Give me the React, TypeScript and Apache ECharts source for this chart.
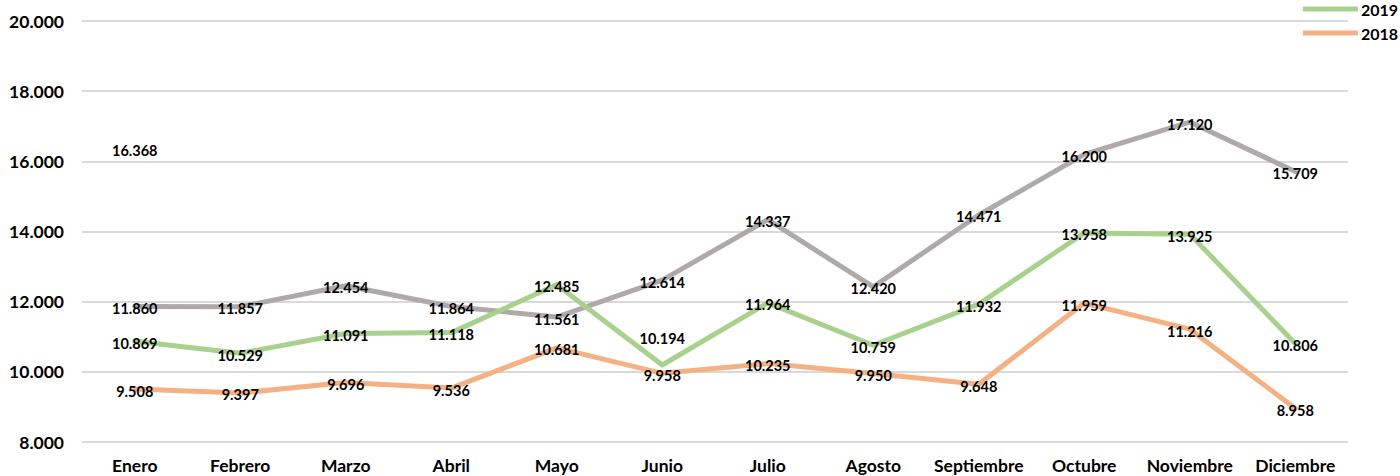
import React, { useEffect, useRef } from "react";
import * as echarts from "echarts";

const months = ["Enero", "Febrero", "Marzo", "Abril", "Mayo", "Junio", "Julio", "Agosto", "Septiembre", "Octubre", "Noviembre", "Diciembre"];
const s2021 = [16368, null, null, null, null, null, null, null, null, null, null, null];
const s2020 = [11860, 11857, 12454, 11864, 11561, 12614, 14337, 12420, 14471, 16200, 17120, 15709];
const s2019 = [10869, 10529, 11091, 11118, 12485, 10194, 11964, 10759, 11932, 13958, 13925, 10806];
const s2018 = [9508, 9397, 9696, 9536, 10681, 9958, 10235, 9950, 9648, 11959, 11216, 8958];
const yTicks = { min: 8000, max: 20000, interval: 2000 };

const fmt = (v: number) => {
  const s = Math.round(v).toString();
  return s.replace(/\B(?=(\d{3})+(?!\d))/g, ".");
};

const FONT = "Lato, 'Open Sans', sans-serif";

const labelStyle = {
  show: true,
  position: "inside",
  offset: [0, 2],
  color: "#000",
  fontFamily: FONT,
  fontWeight: "bold",
  fontSize: 14.5,
  formatter: (p: any) => fmt(p.value),
};

function makeSeries(name: string, data: (number | null)[], color: string, special?: Record<number, number[]>) {
  return {
    name,
    type: "line",
    data: data.map((v, i) =>
      special && special[i] ? { value: v, label: { offset: special[i] } } : v
    ),
    symbol: "circle",
    symbolSize: 1,
    showSymbol: true,
    itemStyle: { color: "rgba(0,0,0,0)" },
    lineStyle: { color, width: 5, cap: "round", join: "round" },
    label: labelStyle,
    connectNulls: false,
    z: 2,
  };
}

export default function App() {
  const ref = useRef<HTMLDivElement>(null);
  useEffect(() => {
    if (!ref.current) return;
    const chart = echarts.init(ref.current, null, { renderer: "svg" });
    chart.setOption({
      animation: false,
      backgroundColor: "#fff",
      grid: { left: 82, right: 52, top: 21, bottom: 34, containLabel: false },
      legend: {
        orient: "vertical",
        right: 2,
        top: 1,
        padding: 0,
        itemGap: 8,
        itemWidth: 55,
        itemHeight: 5,
        icon: "rect",
        textStyle: { fontFamily: FONT, fontWeight: "bold", fontSize: 16, color: "#000", padding: [0, 0, 0, -2] },
        data: [
          { name: "2019", itemStyle: { color: "#A9D18E" } },
          { name: "2018", itemStyle: { color: "#F4B183" } },
        ],
      },
      xAxis: {
        type: "category",
        data: months,
        boundaryGap: true,
        axisLine: { show: false },
        axisTick: { show: false },
        axisLabel: {
          margin: 14,
          color: "#000",
          fontFamily: FONT,
          fontWeight: "bold",
          fontSize: 17.5,
          interval: 0,
        },
      },
      yAxis: {
        type: "value",
        min: yTicks.min,
        max: yTicks.max,
        interval: yTicks.interval,
        axisLine: { show: false },
        axisTick: { show: false },
        splitLine: { lineStyle: { color: "#D9D9D9", width: 2 } },
        axisLabel: {
          margin: 18,
          color: "#000",
          fontFamily: FONT,
          fontWeight: "bold",
          fontSize: 17.5,
          formatter: (v: number) => fmt(v),
        },
      },
      series: [
        makeSeries("2021", s2021, "#FFC000"),
        makeSeries("2020", s2020, "#AEAAAA"),
        makeSeries("2019", s2019, "#A9D18E", { 5: [0, -27] }),
        makeSeries("2018", s2018, "#F4B183"),
      ],
    });
    return () => chart.dispose();
  }, []);
  return <div ref={ref} style={{ width: 1400, height: 476, position: "absolute", left: 0, top: 0 }} />;
}
